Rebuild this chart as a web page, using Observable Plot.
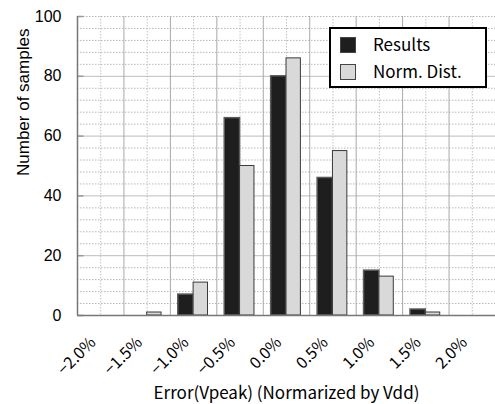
<!DOCTYPE html>
<html>
<head>
<meta charset="utf-8">
<script src="https://cdn.jsdelivr.net/npm/d3@7"></script>
<script src="https://cdn.jsdelivr.net/npm/@observablehq/plot@0.6"></script>
<style>
  html, body { margin: 0; padding: 0; background: #fff; }
  #wrap { position: relative; width: 495px; height: 404px; }
  #wrap svg text { font-family: "Liberation Sans", Arial, sans-serif; }
  #wrap svg text.jp, #wrap svg .jp text { font-family: "Noto Sans CJK JP", sans-serif; }
  #legend {
    position: absolute; left: 329px; top: 27px; width: 154px; height: 57px;
    border: 2px solid #000; background: #fff;
    font-family: "Noto Sans CJK JP", sans-serif; font-size: 17px; color: #000;
  }
  .item { position: absolute; left: 9px; height: 17px; }
  .sw { position: absolute; left: 0; top: 0; width: 14px; height: 14px; border: 1px solid #444; }
  .lab { position: absolute; left: 33px; top: -5px; white-space: nowrap; line-height: 24px; }
</style>
</head>
<body>
<div id="wrap"></div>
<script>
// ---- data ----
const centers = [-2.0, -1.5, -1.0, -0.5, 0.0, 0.5, 1.0, 1.5, 2.0];
const tickLabels = ["−2.0%", "−1.5%", "−1.0%", "−0.5%", "0.0%", "0.5%", "1.0%", "1.5%", "2.0%"];
const results = [0, 0, 7, 66, 80, 46, 15, 2, 0];
const normDist = [0, 1, 11, 50, 86, 55, 13, 1, 0];
const seriesNames = ["Results", "Norm. Dist."];
const yTicks = [0, 20, 40, 60, 80, 100];
const xTitle = "Error(Vpeak) (Normarized by Vdd)";
const yTitle = "Number of samples";

// ---- derived tables ----
const half = 0.25;            // half bin width
const barW = 0.155;           // bar width in bin units
const resRows = centers.map((c, i) => ({c, v: results[i]})).filter(d => d.v > 0);
const normRows = centers.map((c, i) => ({c, v: normDist[i]})).filter(d => d.v > 0);
const boundaries = centers.map(c => c + half);
const minorY = d3.range(0, 101, 4).filter(v => v % 20 !== 0 || v === 100);
const majorY = yTicks.filter(v => v > 0 && v < 100);
const tickRows = centers.map((c, i) => ({c, label: tickLabels[i]}));
const xMin = centers[0] - half;

const chart = Plot.plot({
  width: 495,
  height: 404,
  marginLeft: 77,
  marginRight: 0,
  marginTop: 16,
  marginBottom: 89,
  style: {fontSize: "16px", color: "#000", background: "#fff"},
  x: {domain: [xMin, centers[centers.length - 1] + half], axis: null},
  y: {domain: [0, 100], ticks: yTicks, tickSize: 0, tickPadding: 16, label: null},
  marks: [
    Plot.ruleY(minorY, {stroke: "#b8b8b8", strokeDasharray: "1.5,1.5"}),
    Plot.ruleY(majorY, {stroke: "#bdbdbd"}),
    Plot.ruleX(centers, {stroke: "#c0c0c0", strokeDasharray: "1.5,1.5"}),
    Plot.ruleX(boundaries, {stroke: "#a8a8a8"}),
    Plot.ruleY(yTicks, {x1: xMin, x2: xMin + 0.07, stroke: "#999", strokeWidth: 1.5}),
    Plot.rectY(resRows, {x1: d => d.c - barW - 0.01, x2: d => d.c, y1: 0, y2: "v", fill: "#1e1e1e", stroke: "#5a5a5a", strokeWidth: 1.5}),
    Plot.rectY(normRows, {x1: d => d.c, x2: d => d.c + barW, y1: 0, y2: "v", fill: "#d9d9d9", stroke: "#3a3a3a", strokeWidth: 1}),
    Plot.ruleX([xMin], {stroke: "#777", strokeWidth: 1.5}),
    Plot.ruleY([0], {stroke: "#777", strokeWidth: 1.5}),
    Plot.text(tickRows, {x: "c", text: "label", frameAnchor: "bottom", rotate: -45, textAnchor: "end",
      dx: -4, dy: 28, fontSize: 16, fill: "#000", className: "jp"}),
    Plot.text([xTitle], {frameAnchor: "bottom", dy: 83, fontSize: 17, fill: "#000", className: "jp"}),
    Plot.text([yTitle], {frameAnchor: "left", rotate: -90, dx: -54, dy: 10, fontSize: 17, fill: "#000"})
  ]
});

const wrap = document.getElementById("wrap");
wrap.appendChild(chart);

// legend
const legend = document.createElement("div");
legend.id = "legend";
const legendFills = ["#1e1e1e", "#d9d9d9"];
seriesNames.forEach((name, i) => {
  const item = document.createElement("div");
  item.className = "item";
  item.style.top = (8 + i * 27) + "px";
  const sw = document.createElement("div");
  sw.className = "sw";
  sw.style.background = legendFills[i];
  const lab = document.createElement("div");
  lab.className = "lab";
  lab.textContent = name;
  item.appendChild(sw);
  item.appendChild(lab);
  legend.appendChild(item);
});
wrap.appendChild(legend);
</script>
</body>
</html>
